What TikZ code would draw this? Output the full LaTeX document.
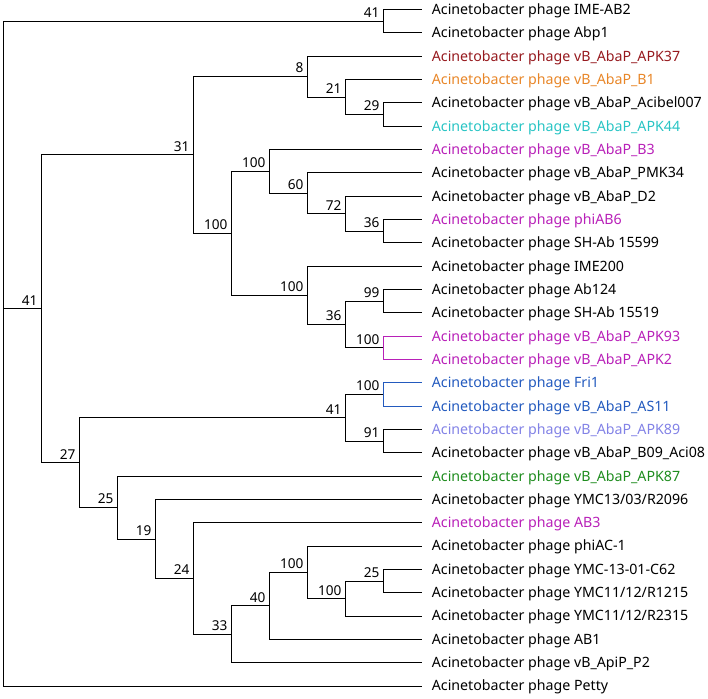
\documentclass[tikz,border=0pt]{standalone}
\usepackage{fontspec}
\setmainfont{Noto Sans}
\definecolor{cRed}{RGB}{150,25,30}
\definecolor{cOrange}{RGB}{232,134,40}
\definecolor{cCyan}{RGB}{40,196,196}
\definecolor{cMag}{RGB}{184,32,184}
\definecolor{cBlue}{RGB}{35,90,190}
\definecolor{cLav}{RGB}{130,130,230}
\definecolor{cGreen}{RGB}{30,140,30}
\tikzset{
  br/.style={line width=0.95pt, line cap=rect},
  leaf/.style={anchor=base west, inner sep=0pt, font=\fontsize{14.2}{16}\selectfont},
  sup/.style={anchor=base east, inner sep=0pt, font=\fontsize{13.6}{16}\selectfont},
}
\begin{document}
\begin{tikzpicture}[x=1pt,y=-1pt]
\useasboundingbox (0,0) rectangle (708,698);
% leaf end points
\foreach \i/\yy in {0/9.5,1/32.83,2/56.16,3/79.49,4/102.82,5/126.15,6/149.48,7/172.81,8/196.14,9/219.47,10/242.8,11/266.13,12/289.46,13/312.79,14/336.12,15/359.45,16/382.78,17/406.11,18/429.44,19/452.77,20/476.1,21/499.43,22/522.76,23/546.09,24/569.42,25/592.75,26/616.08,27/639.41,28/662.74,29/686.07}
  {\coordinate (L\i) at (421.5,\yy);}
% leaf labels
\node[leaf] (T0) at ([shift={(10.2,4.9)}]L0) {Acinetobacter phage IME-AB2};
\node[leaf] (T1) at ([shift={(10.2,4.9)}]L1) {Acinetobacter phage Abp1};
\node[leaf,text=cRed] (T2) at ([shift={(10.2,4.9)}]L2) {Acinetobacter phage vB\_AbaP\_APK37};
\node[leaf,text=cOrange] (T3) at ([shift={(10.2,4.9)}]L3) {Acinetobacter phage vB\_AbaP\_B1};
\node[leaf] (T4) at ([shift={(10.2,4.9)}]L4) {Acinetobacter phage vB\_AbaP\_Acibel007};
\node[leaf,text=cCyan] (T5) at ([shift={(10.2,4.9)}]L5) {Acinetobacter phage vB\_AbaP\_APK44};
\node[leaf,text=cMag] (T6) at ([shift={(10.2,4.9)}]L6) {Acinetobacter phage vB\_AbaP\_B3};
\node[leaf] (T7) at ([shift={(10.2,4.9)}]L7) {Acinetobacter phage vB\_AbaP\_PMK34};
\node[leaf] (T8) at ([shift={(10.2,4.9)}]L8) {Acinetobacter phage vB\_AbaP\_D2};
\node[leaf,text=cMag] (T9) at ([shift={(10.2,4.9)}]L9) {Acinetobacter phage phiAB6};
\node[leaf] (T10) at ([shift={(10.2,4.9)}]L10) {Acinetobacter phage SH-Ab 15599};
\node[leaf] (T11) at ([shift={(10.2,4.9)}]L11) {Acinetobacter phage IME200};
\node[leaf] (T12) at ([shift={(10.2,4.9)}]L12) {Acinetobacter phage Ab124};
\node[leaf] (T13) at ([shift={(10.2,4.9)}]L13) {Acinetobacter phage SH-Ab 15519};
\node[leaf,text=cMag] (T14) at ([shift={(10.2,4.9)}]L14) {Acinetobacter phage vB\_AbaP\_APK93};
\node[leaf,text=cMag] (T15) at ([shift={(10.2,4.9)}]L15) {Acinetobacter phage vB\_AbaP\_APK2};
\node[leaf,text=cBlue] (T16) at ([shift={(10.2,4.9)}]L16) {Acinetobacter phage Fri1};
\node[leaf,text=cBlue] (T17) at ([shift={(10.2,4.9)}]L17) {Acinetobacter phage vB\_AbaP\_AS11};
\node[leaf,text=cLav] (T18) at ([shift={(10.2,4.9)}]L18) {Acinetobacter phage vB\_AbaP\_APK89};
\node[leaf] (T19) at ([shift={(10.2,4.9)}]L19) {Acinetobacter phage vB\_AbaP\_B09\_Aci08};
\node[leaf,text=cGreen] (T20) at ([shift={(10.2,4.9)}]L20) {Acinetobacter phage vB\_AbaP\_APK87};
\node[leaf] (T21) at ([shift={(10.2,4.9)}]L21) {Acinetobacter phage YMC13/03/R2096};
\node[leaf,text=cMag] (T22) at ([shift={(10.2,4.9)}]L22) {Acinetobacter phage AB3};
\node[leaf] (T23) at ([shift={(10.2,4.9)}]L23) {Acinetobacter phage phiAC-1};
\node[leaf] (T24) at ([shift={(10.2,4.9)}]L24) {Acinetobacter phage YMC-13-01-C62};
\node[leaf] (T25) at ([shift={(10.2,4.9)}]L25) {Acinetobacter phage YMC11/12/R1215};
\node[leaf] (T26) at ([shift={(10.2,4.9)}]L26) {Acinetobacter phage YMC11/12/R2315};
\node[leaf] (T27) at ([shift={(10.2,4.9)}]L27) {Acinetobacter phage AB1};
\node[leaf] (T28) at ([shift={(10.2,4.9)}]L28) {Acinetobacter phage vB\_ApiP\_P2};
\node[leaf] (T29) at ([shift={(10.2,4.9)}]L29) {Acinetobacter phage Petty};
% internal nodes
\coordinate (root) at (3.5,308.82);
\coordinate (na) at (383.5,21.17);
\coordinate (n29) at (383.5,114.49);
\coordinate (n21) at (345.5,96.99);
\coordinate (n8) at (307.5,76.58);
\coordinate (n36a) at (383.5,231.14);
\coordinate (n72) at (345.5,213.64);
\coordinate (n60) at (307.5,193.23);
\coordinate (n100a) at (269.5,171.36);
\coordinate (n99) at (383.5,301.13);
\coordinate (n100b) at (383.5,347.79);
\coordinate (n36b) at (345.5,324.46);
\coordinate (n100c) at (307.5,295.3);
\coordinate (n100d) at (231.5,233.33);
\coordinate (n31) at (193.5,154.96);
\coordinate (n100e) at (383.5,394.45);
\coordinate (n91) at (383.5,441.11);
\coordinate (n41b) at (345.5,417.78);
\coordinate (n25b) at (383.5,581.09);
\coordinate (n100f) at (345.5,598.59);
\coordinate (n100g) at (307.5,572.34);
\coordinate (n40) at (269.5,605.88);
\coordinate (n33) at (231.5,634.31);
\coordinate (n24) at (193.5,578.54);
\coordinate (n19) at (155.5,538.99);
\coordinate (n25a) at (117.5,507.55);
\coordinate (n27) at (79.5,462.67);
\coordinate (n41a) at (41.5,308.82);
% support values
\foreach \n/\t in {na/41,n29/29,n21/21,n8/8,n36a/36,n72/72,n60/60,n100a/100,n99/99,n100b/100,n36b/36,n100c/100,n100d/100,n31/31,n100e/100,n91/91,n41b/41,n25b/25,n100f/100,n100g/100,n40/40,n33/33,n24/24,n19/19,n25a/25,n27/27,n41a/41}
  {\node[sup] (s\n) at ([shift={(-3.8,-3.6)}]\n) {\t};}
% branches
\draw[br] (root) |- (na); \draw[br] (root) |- (n41a); \draw[br] (root) |- (L29);
\draw[br] (na) |- (L0); \draw[br] (na) |- (L1);
\draw[br] (n41a) |- (n31); \draw[br] (n41a) |- (n27);
\draw[br] (n31) |- (n8); \draw[br] (n31) |- (n100d);
\draw[br] (n8) |- (L2); \draw[br] (n8) |- (n21);
\draw[br] (n21) |- (L3); \draw[br] (n21) |- (n29);
\draw[br] (n29) |- (L4); \draw[br] (n29) |- (L5);
\draw[br] (n100d) |- (n100a); \draw[br] (n100d) |- (n100c);
\draw[br] (n100a) |- (L6); \draw[br] (n100a) |- (n60);
\draw[br] (n60) |- (L7); \draw[br] (n60) |- (n72);
\draw[br] (n72) |- (L8); \draw[br] (n72) |- (n36a);
\draw[br] (n36a) |- (L9); \draw[br] (n36a) |- (L10);
\draw[br] (n100c) |- (L11); \draw[br] (n100c) |- (n36b);
\draw[br] (n36b) |- (n99); \draw[br] (n36b) |- (n100b);
\draw[br] (n99) |- (L12); \draw[br] (n99) |- (L13);
\draw[br,cMag] (n100b) |- (L14); \draw[br,cMag] (n100b) |- (L15);
\draw[br] (n27) |- (n41b); \draw[br] (n27) |- (n25a);
\draw[br] (n41b) |- (n100e); \draw[br] (n41b) |- (n91);
\draw[br,cBlue] (n100e) |- (L16); \draw[br,cBlue] (n100e) |- (L17);
\draw[br] (n91) |- (L18); \draw[br] (n91) |- (L19);
\draw[br] (n25a) |- (L20); \draw[br] (n25a) |- (n19);
\draw[br] (n19) |- (L21); \draw[br] (n19) |- (n24);
\draw[br] (n24) |- (L22); \draw[br] (n24) |- (n33);
\draw[br] (n33) |- (n40); \draw[br] (n33) |- (L28);
\draw[br] (n40) |- (n100g); \draw[br] (n40) |- (L27);
\draw[br] (n100g) |- (L23); \draw[br] (n100g) |- (n100f);
\draw[br] (n100f) |- (n25b); \draw[br] (n100f) |- (L26);
\draw[br] (n25b) |- (L24); \draw[br] (n25b) |- (L25);
\end{tikzpicture}
\end{document}
